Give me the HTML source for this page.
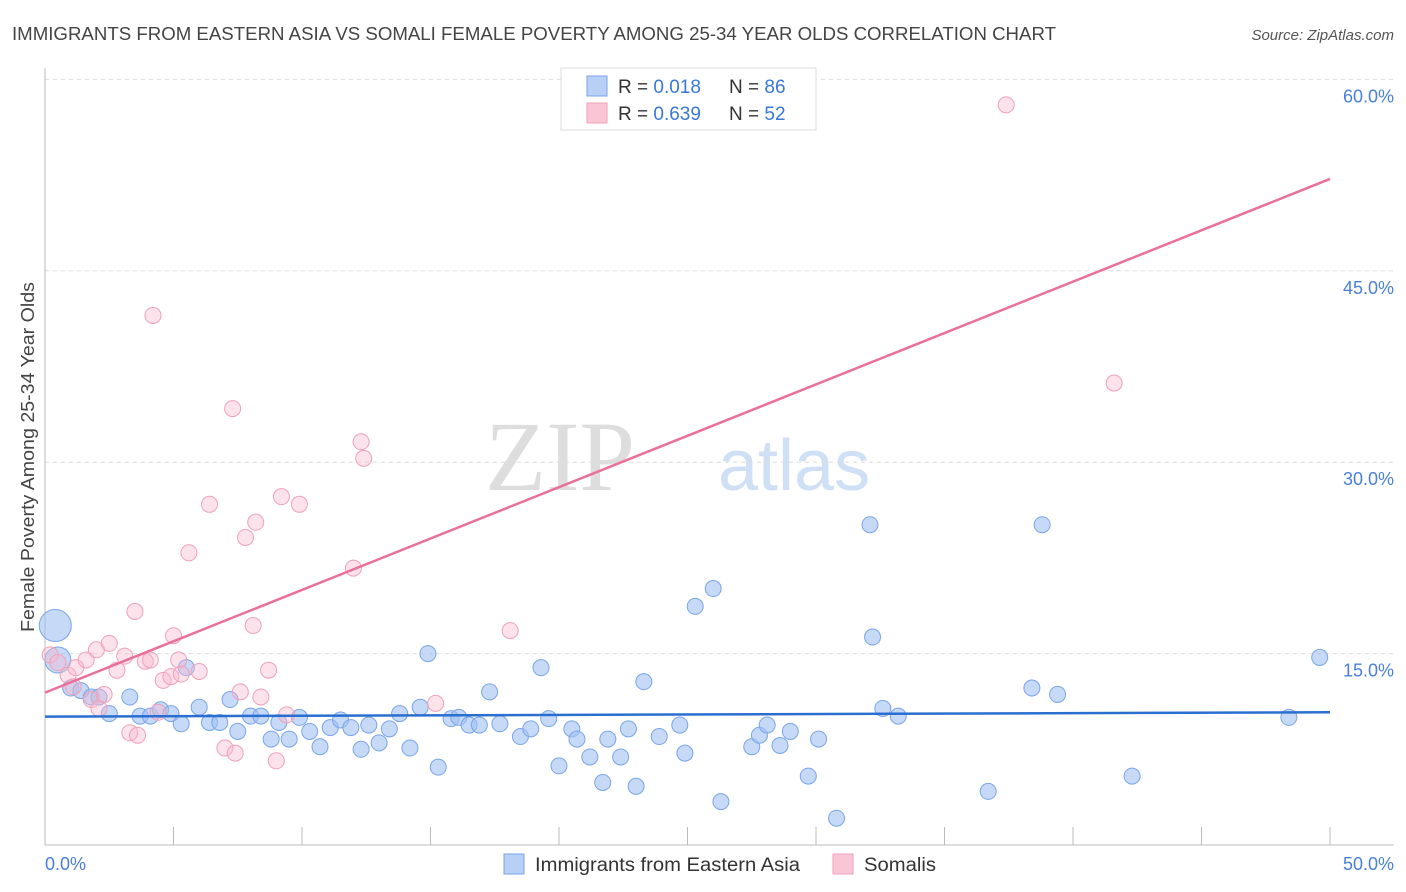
<!DOCTYPE html>
<html><head><meta charset="utf-8"><style>
body{margin:0;background:#fff;font-family:"Liberation Sans",sans-serif;}
svg{display:block}
</style></head><body>
<svg id="chart" width="1406" height="892" xmlns="http://www.w3.org/2000/svg">
<text x="12" y="40" font-size="18" fill="#444" textLength="1044" lengthAdjust="spacingAndGlyphs">IMMIGRANTS FROM EASTERN ASIA VS SOMALI FEMALE POVERTY AMONG 25-34 YEAR OLDS CORRELATION CHART</text>
<text x="1394" y="40" font-size="15" fill="#555" font-style="italic" text-anchor="end">Source: ZipAtlas.com</text>
<text x="635" y="490" font-size="100" fill="#ddd" font-family="Liberation Serif,serif" text-anchor="end">ZIP</text>
<text x="718" y="490" font-size="72" fill="#cfdff5">atlas</text>
<g id="grid"></g><g id="axes"></g><g id="pts"></g><g id="lines"></g>
<text transform="translate(34,457) rotate(-90)" font-size="18" fill="#444" text-anchor="middle" textLength="350" lengthAdjust="spacingAndGlyphs">Female Poverty Among 25-34 Year Olds</text>
<text x="45" y="870" font-size="18" fill="#4a80d8">0.0%</text>
<text x="1394" y="870" font-size="18" fill="#4a80d8" text-anchor="end">50.0%</text>
<g>
<rect x="561" y="68" width="255" height="62" fill="#fff" stroke="#ddd"/>
<rect x="587" y="76" width="20" height="20" fill="#b8d0f5" stroke="#7aa5e8"/>
<rect x="587" y="103" width="20" height="20" fill="#f9c6d6" stroke="#f0a0b8"/>
<text x="618" y="93" font-size="19" fill="#333">R = <tspan fill="#3a78d8">0.018</tspan></text>
<text x="729" y="93" font-size="19" fill="#333">N = <tspan fill="#3a78d8">86</tspan></text>
<text x="618" y="120" font-size="19" fill="#333">R = <tspan fill="#3a78d8">0.639</tspan></text>
<text x="729" y="120" font-size="19" fill="#333">N = <tspan fill="#3a78d8">52</tspan></text>
</g>
<g>
<rect x="504" y="854" width="20" height="20" fill="#b8d0f5" stroke="#7aa5e8"/>
<text x="535" y="871" font-size="19" fill="#333" textLength="265" lengthAdjust="spacingAndGlyphs">Immigrants from Eastern Asia</text>
<rect x="833" y="854" width="20" height="20" fill="#f9c6d6" stroke="#f0a0b8"/>
<text x="864" y="871" font-size="19" fill="#333" textLength="72" lengthAdjust="spacingAndGlyphs">Somalis</text>
</g>
</svg>
<script>
const yTicks=[15,30,45,60];
const yTickLabels=["15.0%","30.0%","45.0%","60.0%"];
const xTicks=[0,5,10,15,20,25,30,35,40,45,50];
const blueX=[0.4,0.5,1.0,1.4,1.8,2.1,2.5,3.3,3.7,4.1,4.5,4.9,5.3,5.5,6.0,6.4,6.8,7.2,7.5,8.0,8.4,8.8,9.1,9.5,9.9,10.3,10.7,11.1,11.5,11.9,12.3,12.6,13.0,13.4,13.8,14.2,14.6,14.9,15.3,15.8,16.1,16.5,16.9,17.3,17.7,18.5,18.9,19.3,19.6,20.0,20.5,20.7,21.2,21.7,21.9,22.4,22.7,23.0,23.3,23.9,24.7,24.9,25.3,26.0,26.3,27.5,27.8,28.1,28.6,29.0,29.7,30.1,30.8,32.1,32.2,32.6,33.2,36.7,38.4,38.8,39.4,42.3,48.4,49.6];
const blueY=[17.2,14.5,12.3,12.1,11.6,11.6,10.3,11.6,10.1,10.1,10.6,10.3,9.5,13.9,10.8,9.6,9.6,11.4,8.9,10.1,10.1,8.3,9.6,8.3,10.0,8.9,7.7,9.2,9.8,9.2,7.5,9.4,8.0,9.1,10.3,7.6,10.8,15.0,6.1,9.9,10.0,9.4,9.4,12.0,9.5,8.5,9.1,13.9,9.9,6.2,9.1,8.3,6.9,4.9,8.3,6.9,9.1,4.6,12.8,8.5,9.4,7.2,18.7,20.1,3.4,7.7,8.6,9.4,7.8,8.9,5.4,8.3,2.1,25.1,16.3,10.7,10.1,4.2,12.3,25.1,11.8,5.4,10.0,14.7];
const pinkX=[0.2,0.5,0.9,1.1,1.2,1.6,1.8,2.0,2.1,2.3,2.5,2.8,3.1,3.3,3.5,3.6,3.9,4.1,4.2,4.4,4.6,4.9,5.0,5.2,5.3,5.6,6.0,6.4,7.0,7.3,7.4,7.6,7.8,8.1,8.2,8.4,8.7,9.0,9.2,9.4,9.9,12.0,12.3,12.4,15.2,18.1,37.4,41.6];
const pinkY=[14.9,14.3,13.3,12.4,13.9,14.5,11.4,15.3,10.7,11.8,15.8,13.7,14.8,8.8,18.3,8.6,14.4,14.5,41.5,10.4,12.9,13.2,16.4,14.5,13.4,22.9,13.6,26.7,7.6,34.2,7.2,12.0,24.1,17.2,25.3,11.6,13.7,6.6,27.3,10.2,26.7,21.7,31.6,30.3,11.1,16.8,58.0,36.2];
const blueTrend=[10.06,10.4];
const pinkTrend=[11.94,52.2];
const NS="http://www.w3.org/2000/svg";
const X=v=>45+v*25.7, Y=v=>845-v*12.76;
function mk(tag,attrs,parent){const e=document.createElementNS(NS,tag);for(const k in attrs)e.setAttribute(k,attrs[k]);document.getElementById(parent).appendChild(e);return e;}
yTicks.forEach((t,i)=>{
 const l=mk('line',{x1:45,x2:1394,y1:Y(t),y2:Y(t),stroke:'#ddd','stroke-dasharray':'4,4'},'grid');
 
 
 const tx=mk('text',{x:1394,y:Y(t)+23,'font-size':18,fill:'#4a80d8','text-anchor':'end'},'grid');
 tx.textContent=yTickLabels[i];
 
 
});
const yl=mk('line',{x1:45,x2:45,y1:68,y2:845,stroke:'#bbb'},'axes');


const xl=mk('line',{x1:45,x2:1394,y1:845,y2:845,stroke:'#bbb'},'axes');


xTicks.forEach(t=>{const k=mk('line',{x1:X(t),x2:X(t),y1:827,y2:845,stroke:'#bbb'},'axes');
 
 });
blueX.forEach((v,i)=>{const r=i==0?16:(i==1?13:8);
 const c=mk('circle',{cx:X(v),cy:Y(blueY[i]),r:r,fill:'rgba(160,192,242,0.6)',stroke:'#7aa5e8','stroke-width':1},'pts');
 
 });
pinkX.forEach((v,i)=>{
 const c=mk('circle',{cx:X(v),cy:Y(pinkY[i]),r:8,fill:'rgba(247,185,205,0.4)',stroke:'#f0a0b8','stroke-width':1},'pts');
 
 });
const bl=mk('line',{x1:X(0),x2:X(50),y1:Y(blueTrend[0]),y2:Y(blueTrend[1]),stroke:'#2a6fd0','stroke-width':2.5},'lines');


const pl=mk('line',{x1:X(0),x2:X(50),y1:Y(pinkTrend[0]),y2:Y(pinkTrend[1]),stroke:'#e8709a','stroke-width':2.5},'lines');


</script>
</body></html>
